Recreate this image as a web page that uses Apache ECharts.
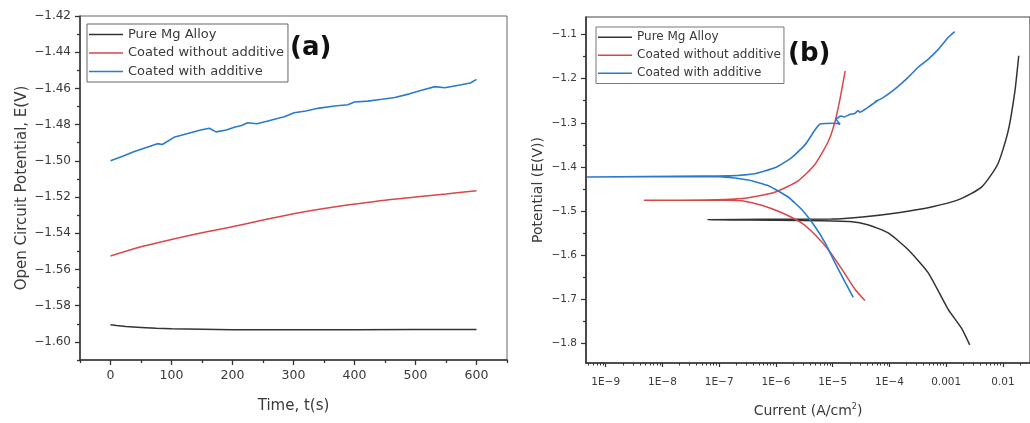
<!DOCTYPE html>
<html><head><meta charset="utf-8">
<script src="https://cdn.jsdelivr.net/npm/echarts@6/dist/echarts.min.js"></script>
<style>html,body{margin:0;padding:0;background:#fff}#c{width:1030px;height:423px}</style>
</head><body><div id="c"></div>
<script>
// ---------- Panel (a): Open circuit potential vs time ----------
const seriesNames = ['Pure Mg Alloy', 'Coated without additive', 'Coated with additive'];

const ocpBlackT = [0, 10, 25, 50, 75, 100, 150, 200, 250, 300, 400, 500, 600];
const ocpBlackV = [-1.5905, -1.591, -1.5915, -1.592, -1.5925, -1.5927, -1.593, -1.5933, -1.5933, -1.5933, -1.5933, -1.5932, -1.5932];

const ocpRedT = [0, 50, 100, 150, 200, 250, 300, 350, 400, 450, 500, 550, 600];
const ocpRedV = [-1.5526, -1.5475, -1.5434, -1.5397, -1.5364, -1.5327, -1.5292, -1.5263, -1.5239, -1.5217, -1.5200, -1.5183, -1.5165];

const ocpBlueT = [0, 20, 38, 60, 77, 85, 104, 125, 148, 162, 173, 190, 203, 215, 225, 240, 258, 275, 285, 301, 320, 340, 367, 389, 400, 422, 445, 466, 490, 510, 532, 548, 575, 590, 600];
const ocpBlueV = [-1.500, -1.4975, -1.495, -1.4925, -1.4905, -1.491, -1.487, -1.485, -1.483, -1.482, -1.484, -1.483, -1.4815, -1.4805, -1.479, -1.4795, -1.478, -1.4765, -1.4756, -1.4734, -1.4725, -1.471, -1.4697, -1.469, -1.4675, -1.467, -1.466, -1.465, -1.463, -1.461, -1.459, -1.4596, -1.458, -1.457, -1.455];

const timeTicksMajor = [0, 100, 200, 300, 400, 500, 600];
const timeTicksMinor = [-50, 50, 150, 250, 350, 450, 550, 650];
const ocpTicksMajor = [-1.60, -1.58, -1.56, -1.54, -1.52, -1.50, -1.48, -1.46, -1.44, -1.42];
const ocpTicksMinor = [-1.61, -1.59, -1.57, -1.55, -1.53, -1.51, -1.49, -1.47, -1.45, -1.43];

// ---------- Panel (b): Tafel polarisation curves ----------
const tafBlackI = [2.6e-3, 1.86e-3, 1.07e-3, 4.8e-4, 2.14e-4, 9.5e-5, 4.3e-5, 2.0e-5, 6.3e-6, 1.0e-6, 6.3e-8, 6.0e-7, 9.5e-6, 3.7e-5, 1.43e-4, 5.5e-4, 1.62e-3, 4.2e-3, 8.1e-3, 1.23e-2, 1.62e-2, 1.9e-2];
const tafBlackE = [-1.804, -1.766, -1.722, -1.640, -1.588, -1.550, -1.532, -1.524, -1.522, -1.521, -1.520, -1.519, -1.5185, -1.513, -1.504, -1.491, -1.475, -1.446, -1.394, -1.320, -1.230, -1.148];

const tafRedI = [3.7e-5, 2.45e-5, 1.45e-5, 8.4e-6, 4.9e-6, 2.9e-6, 1.27e-6, 5.6e-7, 2.5e-7, 1.5e-7, 3.2e-8, 4.7e-9, 8.5e-8, 3.3e-7, 9.8e-7, 2.5e-6, 4.9e-6, 8.4e-6, 1.1e-5, 1.35e-5, 1.66e-5];
const tafRedE = [-1.703, -1.677, -1.632, -1.588, -1.554, -1.528, -1.504, -1.487, -1.477, -1.4755, -1.476, -1.476, -1.4745, -1.470, -1.457, -1.431, -1.394, -1.342, -1.297, -1.245, -1.182];

const tafBlueI = [2.3e-5, 1.66e-5, 1.1e-5, 7.4e-6, 4.9e-6, 2.9e-6, 1.66e-6, 7.4e-7, 3.3e-7, 1.5e-7, 6.6e-8, 4.7e-10, 5.0e-8, 1.5e-7, 4.4e-7, 9.8e-7, 1.9e-6, 3.3e-6, 4.9e-6, 6.0e-6, 1.1e-5, 1.35e-5, 1.15e-5, 1.4e-5, 1.6e-5, 2.0e-5, 2.45e-5, 2.8e-5, 3.0e-5, 4.3e-5, 5.0e-5, 6.3e-5, 5.5e-5, 7.5e-5, 1.26e-4, 2.14e-4, 3.2e-4, 4.8e-4, 7.2e-4, 1.07e-3, 1.41e-3];
const tafBlueE = [-1.696, -1.662, -1.618, -1.573, -1.536, -1.498, -1.469, -1.443, -1.430, -1.424, -1.422, -1.423, -1.421, -1.4205, -1.415, -1.4016, -1.379, -1.349, -1.316, -1.303, -1.301, -1.303, -1.292, -1.285, -1.287, -1.281, -1.279, -1.272, -1.276, -1.264, -1.258, -1.249, -1.252, -1.244, -1.223, -1.197, -1.174, -1.156, -1.134, -1.107, -1.093];

const currentTicksMajor = [1e-9, 1e-8, 1e-7, 1e-6, 1e-5, 1e-4, 1e-3, 1e-2];
const potTicksMajor = [-1.8, -1.7, -1.6, -1.5, -1.4, -1.3, -1.2, -1.1];
const potTicksMinor = [-1.85, -1.75, -1.65, -1.55, -1.45, -1.35, -1.25, -1.15];

const colors = ['#333333', '#d9474b', '#2b7bcc'];

function pairs(xs, ys) { return xs.map((x, i) => [x, ys[i]]); }
const currentTicksMinor = [];
currentTicksMajor.concat([1e-10]).forEach(d => { for (let k = 2; k <= 9; k++) { const v = +(d * k).toPrecision(2); if (v > 4.5e-10 && v < 0.03) currentTicksMinor.push(v); } });

const txt = '#3a3a3a';
const font = 'DejaVu Sans, Liberation Sans, sans-serif';
const minus = s => s.replace('-', '\u2212');

const chart = echarts.init(document.getElementById('c'), null, { renderer: 'canvas' });
const axisLineStyle = { show: true, onZero: false, lineStyle: { color: '#333', width: 1.5 } };
const noLine = { show: false, onZero: false };

chart.setOption({
  animation: false,
  backgroundColor: '#fff',
  textStyle: { fontFamily: font },
  title: [
    { text: '(a)', left: 290, top: 35, padding: 0, textStyle: { fontSize: 26, fontWeight: 'bold', color: '#111', fontFamily: font } },
    { text: '(b)', left: 788, top: 41, padding: 0, textStyle: { fontSize: 26, fontWeight: 'bold', color: '#111', fontFamily: font } }
  ],
  legend: [
    { data: seriesNames, orient: 'vertical', left: 87, top: 24, padding: [3, 4, 3, 2], icon: 'rect', itemWidth: 34, itemHeight: 1.6, itemGap: 3.5,
      borderColor: '#666', borderWidth: 1, textStyle: { fontSize: 13, lineHeight: 15, color: txt, fontFamily: font }, selectedMode: false },
    { data: seriesNames, orient: 'vertical', left: 596, top: 27, padding: [3, 3, 3, 2], icon: 'rect', itemWidth: 34, itemHeight: 1.6, itemGap: 3.5,
      borderColor: '#777', borderWidth: 1, textStyle: { fontSize: 12, lineHeight: 14.5, color: txt, fontFamily: font }, selectedMode: false }
  ],
  grid: [
    { left: 80, right: 523, top: 16, bottom: 63, show: true, borderColor: '#666', borderWidth: 1 },
    { left: 586, right: -4, top: 17, bottom: 55, show: true, borderColor: '#444', borderWidth: 1.2 }
  ],
  xAxis: [
    { gridIndex: 0, type: 'value', min: -50, max: 650, position: 'bottom',
      axisLine: axisLineStyle, splitLine: { show: false },
      axisTick: { show: true, length: 5, customValues: timeTicksMajor, lineStyle: { color: '#333', width: 1.3 } },
      axisLabel: { customValues: timeTicksMajor, margin: 9, fontSize: 12.5, color: txt, fontFamily: font },
      name: 'Time, t(s)', nameLocation: 'middle', nameGap: 39, nameTextStyle: { fontSize: 15, color: txt, fontFamily: font } },
    { gridIndex: 0, type: 'value', min: -50, max: 650, position: 'bottom',
      axisLine: noLine, splitLine: { show: false }, axisLabel: { show: false },
      axisTick: { show: true, length: 3, customValues: timeTicksMinor, lineStyle: { color: '#333', width: 1.3 } } },
    { gridIndex: 1, type: 'log', min: 4.5e-10, max: 0.03, position: 'bottom',
      axisLine: axisLineStyle, splitLine: { show: false }, minorTick: { show: false },
      axisTick: { show: true, length: 4, customValues: currentTicksMajor, lineStyle: { color: '#333', width: 1.2 } },
      axisLabel: { customValues: currentTicksMajor, margin: 14, fontSize: 10.5, color: txt, fontFamily: font,
        formatter: v => v >= 1e-3 ? String(+v.toPrecision(1)) : '1E\u2212' + Math.round(-Math.log10(v)) },
      name: 'Current (A/cm{sup|2})', nameLocation: 'middle', nameGap: 40,
      nameTextStyle: { fontSize: 14, color: txt, fontFamily: font, rich: { sup: { fontSize: 8, verticalAlign: 'top', padding: [0, 0, 8, 0], color: txt, fontFamily: font } } } },
    { gridIndex: 1, type: 'log', min: 4.5e-10, max: 0.03, position: 'bottom',
      axisLine: noLine, splitLine: { show: false }, axisLabel: { show: false },
      axisTick: { show: true, length: 2.5, customValues: currentTicksMinor, lineStyle: { color: '#333', width: 1 } } }
  ],
  yAxis: [
    { gridIndex: 0, type: 'value', min: -1.61, max: -1.42, position: 'left',
      axisLine: axisLineStyle, splitLine: { show: false },
      axisTick: { show: true, length: 5, customValues: ocpTicksMajor, lineStyle: { color: '#333', width: 1.3 } },
      axisLabel: { customValues: ocpTicksMajor, margin: 9, fontSize: 12, color: txt, fontFamily: font, formatter: v => minus(v.toFixed(2)) },
      name: 'Open Circuit Potential, E(V)', nameLocation: 'middle', nameGap: 50, nameTextStyle: { fontSize: 15, color: txt, fontFamily: font } },
    { gridIndex: 0, type: 'value', min: -1.61, max: -1.42, position: 'left',
      axisLine: noLine, splitLine: { show: false }, axisLabel: { show: false },
      axisTick: { show: true, length: 3, customValues: ocpTicksMinor, lineStyle: { color: '#333', width: 1.3 } } },
    { gridIndex: 1, type: 'value', min: -1.845, max: -1.06, position: 'left',
      axisLine: axisLineStyle, splitLine: { show: false },
      axisTick: { show: true, length: 5, customValues: potTicksMajor, lineStyle: { color: '#333', width: 1.2 } },
      axisLabel: { customValues: potTicksMajor, margin: 9, fontSize: 10.5, color: txt, fontFamily: font, formatter: v => minus(v.toFixed(1)) },
      name: 'Potential (E(V))', nameLocation: 'middle', nameGap: 41, nameTextStyle: { fontSize: 14, color: txt, fontFamily: font } },
    { gridIndex: 1, type: 'value', min: -1.845, max: -1.06, position: 'left',
      axisLine: noLine, splitLine: { show: false }, axisLabel: { show: false },
      axisTick: { show: true, length: 3, customValues: potTicksMinor, lineStyle: { color: '#333', width: 1.2 } } }
  ],
  series: [
    { name: seriesNames[0], type: 'line', xAxisIndex: 0, yAxisIndex: 0, symbol: 'none', data: pairs(ocpBlackT, ocpBlackV), lineStyle: { color: colors[0], width: 1.5 }, itemStyle: { color: colors[0] } },
    { name: seriesNames[1], type: 'line', xAxisIndex: 0, yAxisIndex: 0, symbol: 'none', smooth: 0.3, data: pairs(ocpRedT, ocpRedV), lineStyle: { color: colors[1], width: 1.5 }, itemStyle: { color: colors[1] } },
    { name: seriesNames[2], type: 'line', xAxisIndex: 0, yAxisIndex: 0, symbol: 'none', data: pairs(ocpBlueT, ocpBlueV), lineStyle: { color: colors[2], width: 1.6 }, itemStyle: { color: colors[2] } },
    { name: seriesNames[0], type: 'line', xAxisIndex: 2, yAxisIndex: 2, symbol: 'none', smooth: 0.2, data: pairs(tafBlackI, tafBlackE), lineStyle: { color: colors[0], width: 1.5 }, itemStyle: { color: colors[0] } },
    { name: seriesNames[1], type: 'line', xAxisIndex: 2, yAxisIndex: 2, symbol: 'none', smooth: 0.2, data: pairs(tafRedI, tafRedE), lineStyle: { color: colors[1], width: 1.5 }, itemStyle: { color: colors[1] } },
    { name: seriesNames[2], type: 'line', xAxisIndex: 2, yAxisIndex: 2, symbol: 'none', smooth: 0.15, data: pairs(tafBlueI, tafBlueE), lineStyle: { color: colors[2], width: 1.6 }, itemStyle: { color: colors[2] } }
  ]
});
</script>
</body></html>
